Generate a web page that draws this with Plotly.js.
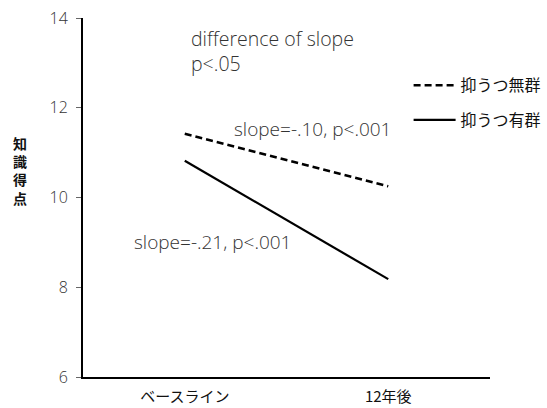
<!DOCTYPE html>
<html><head><meta charset="utf-8">
<script src="https://cdn.plot.ly/plotly-3.0.1.min.js"></script>
<style>html,body{margin:0;padding:0;background:#fff}</style>
</head><body><div id="chart" style="width:547px;height:408px"></div>
<script>
const categories = ["ベースライン", "12年後"];
const seriesNames = ["抑うつ無群", "抑うつ有群"];
const noDepression = [11.42, 10.25];
const depression = [10.82, 8.18];
const yTicks = [6, 8, 10, 12, 14];

const FONT = '"Open Sans", "Noto Sans CJK JP", sans-serif';
const JP = '"Noto Sans CJK JP", sans-serif';
const traces = [
  {x: categories, y: noDepression, name: seriesNames[0], mode: 'lines', type: 'scatter',
   line: {color: '#000', width: 2.5, dash: '7px,4px'}, legendgroup: 'a'},
  {x: categories, y: depression, name: seriesNames[1], mode: 'lines', type: 'scatter',
   line: {color: '#000', width: 2.2}, legendgroup: 'b'}
];
const layout = {
  width: 547, height: 408,
  margin: {l: 83, r: 57, t: 18, b: 31, autoexpand: false},
  paper_bgcolor: '#fff', plot_bgcolor: '#fff',
  font: {family: FONT, size: 13, color: '#222'},
  showlegend: true,
  legend: {x: 0.8, y: 0.86, xanchor: 'left', yanchor: 'top', tracegroupgap: 11, itemwidth: 42,
           font: {family: JP, size: 16, color: '#111'}, bgcolor: 'rgba(0,0,0,0)'},
  xaxis: {type: 'category', range: [-0.5, 1.5], showline: true, linecolor: '#000', linewidth: 2,
          showgrid: false, zeroline: false, ticks: '', fixedrange: true, ticklabelstandoff: 5,
          automargin: false, tickfont: {family: JP, size: 15, color: '#111'}},
  yaxis: {range: [6, 14], tickvals: yTicks, showline: true, linecolor: '#000', linewidth: 2,
          showgrid: false, zeroline: false, ticks: 'outside', ticklen: 5, tickcolor: '#666',
          ticklabelstandoff: 5, automargin: false,
          tickfont: {family: FONT, size: 16, color: '#333', weight: 300}},
  annotations: [
    {xref: 'paper', yref: 'paper', x: 0.26, y: 0.986, xanchor: 'left', yanchor: 'top', align: 'left',
     showarrow: false, text: 'difference of slope<br>p<.05', font: {size: 19.5, color: '#333', weight: 300}},
    {xref: 'paper', yref: 'paper', x: 0.366, y: 0.691, xanchor: 'left', yanchor: 'middle',
     showarrow: false, text: 'slope=-.10, p<.001', font: {size: 19, color: '#333', weight: 300}},
    {xref: 'paper', yref: 'paper', x: 0.12, y: 0.376, xanchor: 'left', yanchor: 'middle',
     showarrow: false, text: 'slope=-.21, p<.001', font: {size: 19, color: '#333', weight: 300}},
    {xref: 'paper', yref: 'paper', x: -0.155, y: 0.574, xanchor: 'center', yanchor: 'middle',
     showarrow: false, text: '知<br>識<br>得<br>点',
     font: {family: JP, size: 14, color: '#111', weight: 'bold'}}
  ]
};
Plotly.newPlot('chart', traces, layout, {displayModeBar: false, staticPlot: true});
</script></body></html>
